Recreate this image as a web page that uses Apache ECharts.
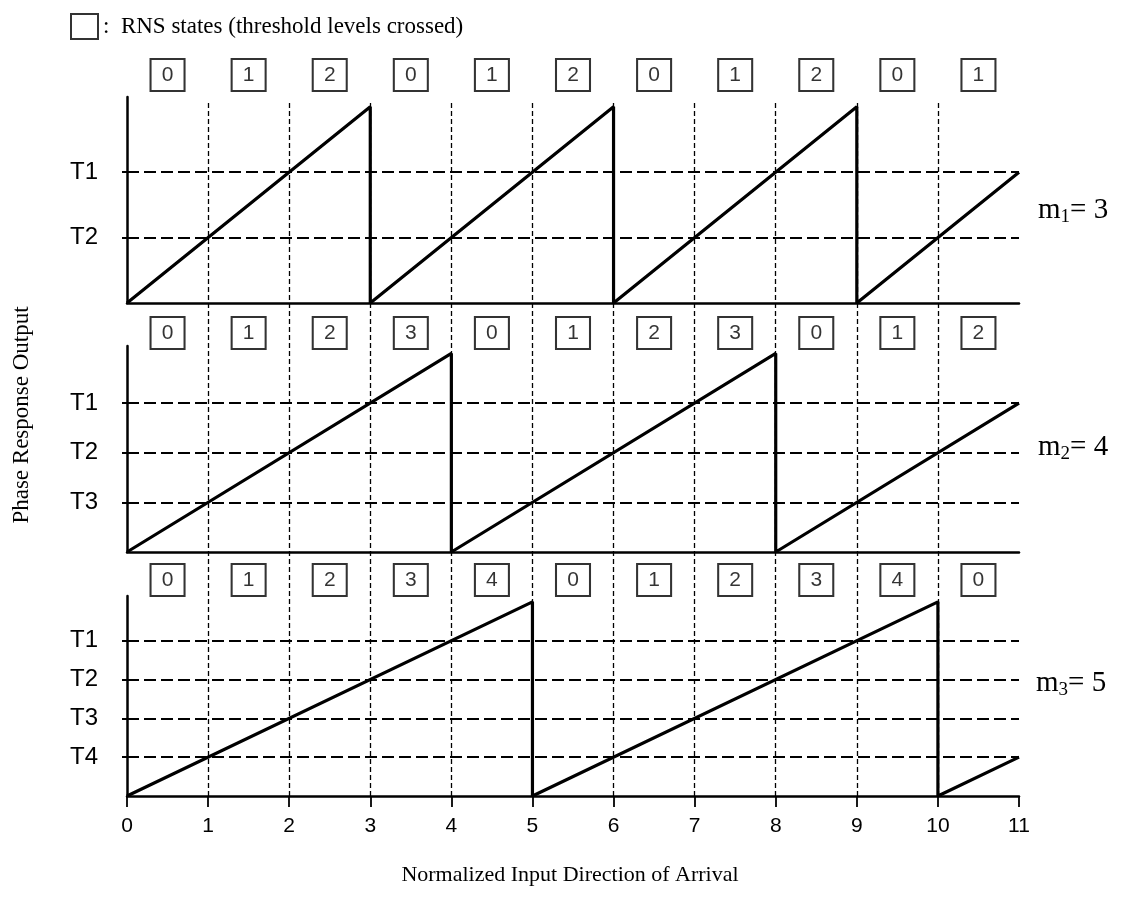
<!DOCTYPE html>
<html><head><meta charset="utf-8">
<script src="https://cdn.jsdelivr.net/npm/echarts@6/dist/echarts.min.js"></script>
<style>html,body{margin:0;padding:0;background:#fff}#c{width:1122px;height:911px}</style>
</head><body><div id="c"></div>
<script>
// ---- data ----
const xTicks = [0,1,2,3,4,5,6,7,8,9,10,11];
const gridLinesX = [1,2,3,4,5,6,7,8,9,10];
const stateCenters = [0.5,1.5,2.5,3.5,4.5,5.5,6.5,7.5,8.5,9.5,10.5];
const moduli = [3,4,5];
const saw1 = [[0,0],[3,3],[3,0],[6,3],[6,0],[9,3],[9,0],[11,2]];
const saw2 = [[0,0],[4,4],[4,0],[8,4],[8,0],[11,3]];
const saw3 = [[0,0],[5,5],[5,0],[10,5],[10,0],[11,1]];
const states1 = [0,1,2,0,1,2,0,1,2,0,1];
const states2 = [0,1,2,3,0,1,2,3,0,1,2];
const states3 = [0,1,2,3,4,0,1,2,3,4,0];
const thresholds1 = [1,2];
const thresholdLabels1 = ['T2','T1'];
const thresholds2 = [1,2,3];
const thresholdLabels2 = ['T3','T2','T1'];
const thresholds3 = [1,2,3,4];
const thresholdLabels3 = ['T4','T3','T2','T1'];
const legendName = 'RNS states (threshold levels crossed)';
const xTitle = 'Normalized Input Direction of Arrival';
const yTitle = 'Phase Response Output';

// ---- layout ----
const L = 127, R = 103;
const SANS = '"Liberation Sans", Arial, Helvetica, sans-serif';
const SERIF = '"Liberation Serif", "Times New Roman", serif';
const panels = [
  {m: moduli[0], saw: saw1, states: states1, th: thresholds1, thl: thresholdLabels1, top: 97, h: 206, boxTop: 59},
  {m: moduli[1], saw: saw2, states: states2, th: thresholds2, thl: thresholdLabels2, top: 346, h: 206, boxTop: 317},
  {m: moduli[2], saw: saw3, states: states3, th: thresholds3, thl: thresholdLabels3, top: 596, h: 200, boxTop: 564}
];

const grid = [], xAxis = [], yAxis = [], series = [];
// background grid for the vertical dashed lines
grid.push({left: L, right: R, top: 100, height: 696});
xAxis.push({gridIndex: 0, type: 'value', min: 0, max: 11, interval: 1, show: false});
yAxis.push({gridIndex: 0, type: 'value', min: 0, max: 1, show: false});
series.push({
  type: 'line', xAxisIndex: 0, yAxisIndex: 0, data: [[0,0]], showSymbol: false, silent: true,
  lineStyle: {opacity: 0}, z: 1,
  markLine: {
    silent: true, symbol: ['none','none'], label: {show: false},
    lineStyle: {color: '#000', width: 1.3, type: [5,3]},
    emphasis: {disabled: true},
    data: gridLinesX.map(v => ({xAxis: v}))
  }
});

panels.forEach((p, i) => {
  const gi = grid.length;
  grid.push({left: L, right: R, top: p.top, height: p.h});
  const isLast = i === panels.length - 1;
  xAxis.push({
    gridIndex: gi, type: 'value', min: 0, max: 11, interval: 1,
    axisLine: {show: true, onZero: false, lineStyle: {color: '#000', width: 2.5}},
    axisTick: {show: isLast, length: 11, lineStyle: {color: '#000', width: 1.8}},
    axisLabel: {show: isLast, margin: 20, color: '#000', fontFamily: SANS, fontSize: 21,
      customValues: xTicks},
    splitLine: {show: false}
  });
  yAxis.push({
    gridIndex: gi, type: 'value', min: 0, max: p.m + 0.15,
    axisLine: {show: true, onZero: false, lineStyle: {color: '#000', width: 2.5}},
    axisTick: {show: true, length: 5, customValues: p.th, lineStyle: {color: '#000', width: 2}},
    axisLabel: {show: true, margin: 29, color: '#000', fontFamily: SANS, fontSize: 24,
      customValues: p.th,
      formatter: v => { const k = p.th.indexOf(v); return k >= 0 ? p.thl[k] : ''; }},
    splitLine: {show: false}
  });
  series.push({
    type: 'line', xAxisIndex: gi, yAxisIndex: gi, data: p.saw, showSymbol: false, silent: true,
    lineStyle: {color: '#000', width: 3.2}, z: 5,
    markLine: {
      silent: true, symbol: ['none','none'], label: {show: false},
      lineStyle: {color: '#000', width: 2, type: [12,5]},
      emphasis: {disabled: true},
      data: p.th.map(v => ({yAxis: v}))
    }
  });
  // state boxes row
  const bi = grid.length;
  grid.push({left: L, right: R, top: p.boxTop, height: 32});
  xAxis.push({gridIndex: bi, type: 'value', min: 0, max: 11, show: false});
  yAxis.push({gridIndex: bi, type: 'value', min: 0, max: 1, show: false});
  series.push({
    name: legendName, type: 'scatter', xAxisIndex: bi, yAxisIndex: bi, silent: true,
    data: stateCenters.map((x, k) => [x, 0.5, p.states[k]]),
    symbol: 'rect', symbolSize: [34, 32],
    itemStyle: {color: '#fff', borderColor: '#000', borderWidth: 2},
    label: {show: true, position: 'inside', formatter: q => String(q.value[2]),
      color: '#000', fontFamily: SANS, fontSize: 21},
    z: 6
  });
});

const mLabel = (idx, val, x, y) => ({
  type: 'text', x: x, y: y,
  style: {
    text: '{a|m}{b|' + idx + '}{a|= ' + val + '}',
    textVerticalAlign: 'middle',
    rich: {
      a: {fontFamily: SERIF, fontSize: 29, fill: '#000', color: '#000'},
      b: {fontFamily: SERIF, fontSize: 19, fill: '#000', color: '#000', padding: [15, 0, 0, 0]}
    }
  }
});

const option = {
  animation: false,
  backgroundColor: '#fff',
  legend: {
    data: [{name: legendName, icon: 'rect'}], left: 65, top: 8,
    itemWidth: 27, itemHeight: 25, itemGap: 6, selectedMode: false,
    itemStyle: {color: '#fff', borderColor: '#000', borderWidth: 2},
    formatter: n => ':  ' + n,
    textStyle: {fontFamily: SERIF, fontSize: 23, color: '#000'}
  },
  grid, xAxis, yAxis, series,
  graphic: [
    {type: 'text', x: 22, y: 415, rotation: Math.PI / 2,
      style: {text: yTitle, font: '23px ' + SERIF, textAlign: 'center', textVerticalAlign: 'middle', fill: '#000'}},
    {type: 'text', x: 570, y: 875,
      style: {text: xTitle, font: '22px ' + SERIF, textAlign: 'center', textVerticalAlign: 'middle', fill: '#000'}},
    mLabel(1, moduli[0], 1038, 210),
    mLabel(2, moduli[1], 1038, 447),
    mLabel(3, moduli[2], 1036, 683)
  ]
};
const chart = echarts.init(document.getElementById('c'), null, {renderer: 'canvas'});
chart.setOption(option);
</script>
</body></html>
